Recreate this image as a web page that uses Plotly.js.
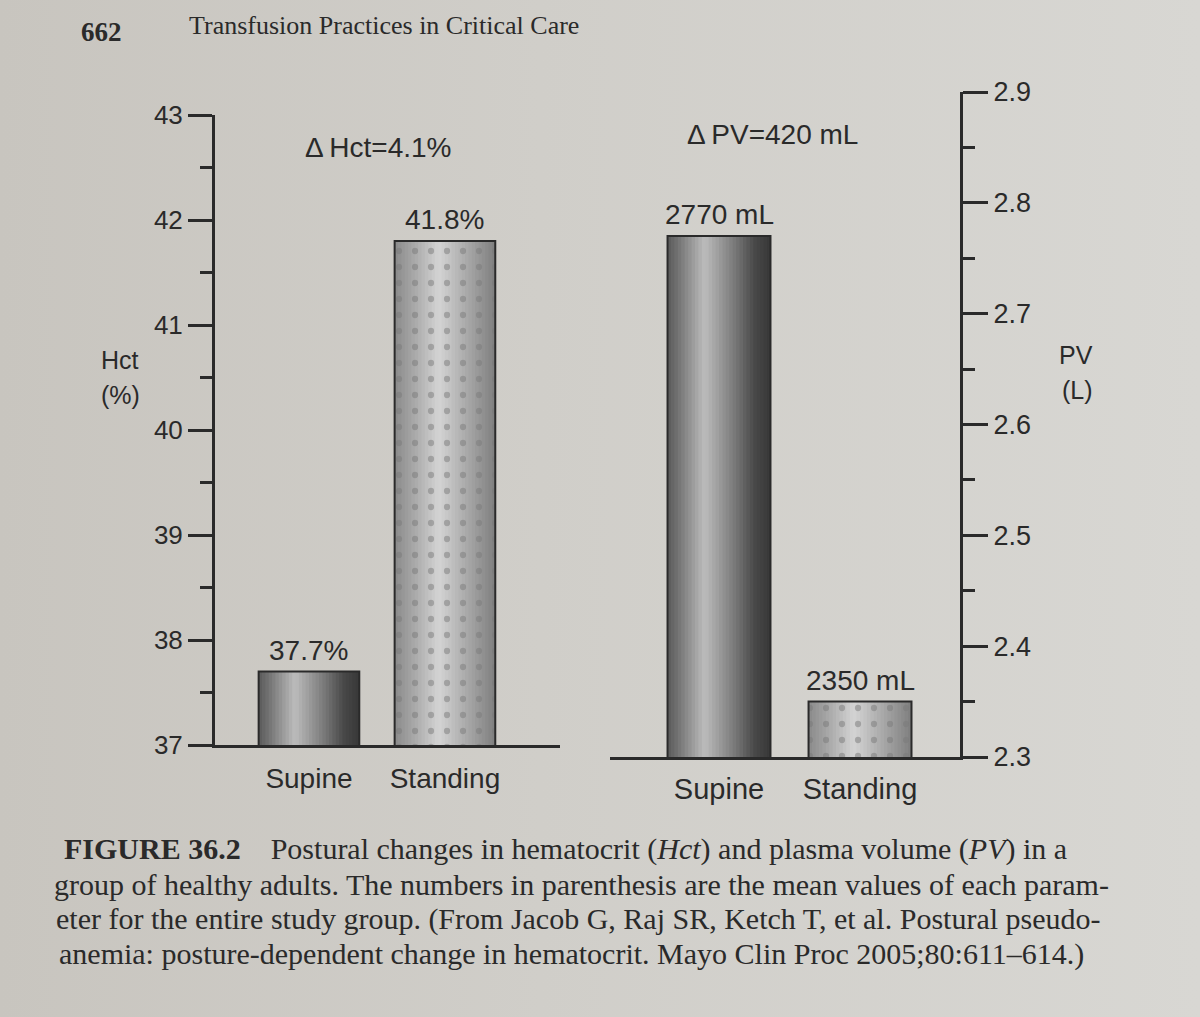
<!DOCTYPE html>
<html><head><meta charset="utf-8">
<script src="https://cdn.plot.ly/plotly-3.0.1.min.js"></script>
<style>
html,body{margin:0;padding:0;}
body{width:1200px;height:1017px;overflow:hidden;background:linear-gradient(90deg,#c8c5bf 0%,#d0cec9 45%,#d8d7d3 100%);}
#chart{width:1200px;height:1017px;}
</style></head><body><div id="chart"></div>
<script>
// ---- data ----
const postures = ['Supine', 'Standing'];
const hctPct = [37.7, 41.8];          // hematocrit, %
const pvML = [2770, 2350];            // plasma volume, mL
const hctTickVals = [37, 38, 39, 40, 41, 42, 43];
const pvTickVals = [2.3, 2.4, 2.5, 2.6, 2.7, 2.8, 2.9];
const headerPage = '662';
const headerTitle = 'Transfusion Practices in Critical Care';
const captionLines = [
  '<b>FIGURE 36.2</b>\u00a0\u00a0\u00a0 Postural changes in hematocrit (<i>Hct</i>) and plasma volume (<i>PV</i>) in a',
  'group of healthy adults. The numbers in parenthesis are the mean values of each param-',
  'eter for the entire study group. (From Jacob G, Raj SR, Ketch T, et al. Postural pseudo-',
  'anemia: posture-dependent change in hematocrit. Mayo Clin Proc 2005;80:611\u2013614.)'
];

const pvL = pvML.map(v => v / 1000);
const hctDelta = (hctPct[1] - hctPct[0]).toFixed(1);
const pvDelta = pvML[0] - pvML[1];

// ---- style helpers ----
const INK = '#2a2a2a';
const SANS = 'Liberation Sans, Arial, sans-serif';
const SERIF = 'Liberation Serif, Times New Roman, serif';
const W = 1200, H = 1017;
const px = x => x / W;
const py = y => 1 - y / H;

function hexToRgb(h) { return [1, 3, 5].map(i => parseInt(h.substr(i, 2), 16)); }
function grad(stops, t) {
  for (let i = 0; i < stops.length - 1; i++) {
    const [t0, c0] = stops[i], [t1, c1] = stops[i + 1];
    if (t <= t1) {
      const f = (t - t0) / (t1 - t0);
      const a = hexToRgb(c0), b = hexToRgb(c1);
      return 'rgb(' + a.map((v, k) => Math.round(v + (b[k] - v) * f)).join(',') + ')';
    }
  }
  return stops[stops.length - 1][1];
}
const gradDark = [[0, '#5a5a5a'], [0.1, '#727272'], [0.36, '#bcbcbc'], [0.6, '#858585'], [0.85, '#484848'], [1, '#383838']];
const gradLight = [[0, '#8a8a8a'], [0.18, '#a6a6a6'], [0.44, '#d4d4d4'], [0.72, '#a8a8a8'], [1, '#7e7e7e']];

const NSTRIP = 30;
function barTraces(xa, ya, vals, BW) {
  const out = [];
  const sw = BW / NSTRIP;
  for (let i = 0; i < NSTRIP; i++) {
    const t = (i + 0.5) / NSTRIP;
    out.push({
      type: 'bar', x: postures, y: vals, xaxis: xa, yaxis: ya,
      width: i < NSTRIP - 1 ? sw * 1.6 : sw, offset: -BW / 2 + i * sw,
      marker: { color: [grad(gradDark, t), grad(gradLight, t)], line: { width: 0 } },
      hoverinfo: 'skip', showlegend: false
    });
  }
  out.push({
    type: 'bar', x: postures, y: vals, xaxis: xa, yaxis: ya, width: BW, offset: -BW / 2,
    marker: {
      color: 'rgba(0,0,0,0)', line: { width: 0 },
      pattern: { shape: ['', '.'], fgcolor: '#7a7a7a', bgcolor: 'rgba(0,0,0,0)', size: 16, solidity: 0.12, fillmode: 'overlay' }
    },
    hoverinfo: 'skip', showlegend: false
  });
  out.push({
    type: 'bar', x: postures, y: vals, xaxis: xa, yaxis: ya, width: BW, offset: -BW / 2,
    marker: { color: 'rgba(0,0,0,0)', line: { width: 2, color: INK } },
    hoverinfo: 'skip', showlegend: false
  });
  return out;
}

const traces = [].concat(
  barTraces('x', 'y', hctPct, 0.74),
  barTraces('x2', 'y2', pvL, 0.73)
);

const baseY = {
  showline: true, linewidth: 3, linecolor: INK, ticks: 'outside', tickwidth: 3, tickcolor: INK,
  showgrid: false, zeroline: false, fixedrange: true,
  tickfont: { family: SANS, size: 26, color: INK }
};
const baseX = {
  type: 'category', showline: true, linewidth: 3, linecolor: INK, ticks: '', showgrid: false,
  zeroline: false, fixedrange: true, tickfont: { family: SANS, size: 28, color: INK }
};

const layout = {
  width: W, height: H, margin: { l: 0, r: 0, t: 0, b: 0 },
  paper_bgcolor: 'rgba(0,0,0,0)', plot_bgcolor: 'rgba(0,0,0,0)',
  barmode: 'overlay', showlegend: false, font: { family: SANS, color: INK },
  xaxis: Object.assign({}, baseX, { domain: [px(215), px(560)], range: [-0.691, 1.846], anchor: 'y', ticklabelstandoff: 6 }),
  yaxis: Object.assign({}, baseY, {
    domain: [py(745), py(115)], range: [37, 43], anchor: 'x', side: 'left',
    tickvals: hctTickVals, ticklen: 24,
    minor: { dtick: 0.5, ticks: 'outside', ticklen: 12, tickwidth: 3, tickcolor: INK, showgrid: false }
  }),
  xaxis2: Object.assign({}, baseX, { domain: [px(610), px(960)], range: [-0.773, 1.709], anchor: 'y2', ticklabelstandoff: 4,
    tickfont: { family: SANS, size: 29, color: INK } }),
  yaxis2: Object.assign({}, baseY, {
    domain: [py(757), py(92)], range: [2.3, 2.9], anchor: 'x2', side: 'right',
    tickvals: pvTickVals, tickformat: '.1f', ticklen: 25,
    tickfont: { family: SANS, size: 27, color: INK },
    minor: { dtick: 0.05, ticks: 'outside', ticklen: 12, tickwidth: 3, tickcolor: INK, showgrid: false }
  }),
  annotations: []
};

const A = layout.annotations;
function paperText(text, x, y, size, family, extra) {
  A.push(Object.assign({ text: text, xref: 'paper', yref: 'paper', x: px(x), y: py(y), showarrow: false,
    xanchor: 'center', yanchor: 'middle', font: { family: family || SANS, size: size, color: INK } }, extra || {}));
}
// value labels on bars
const hctLabels = hctPct.map(v => v.toFixed(1) + '%');
const pvLabels = pvML.map(v => v + ' mL');
postures.forEach((p, i) => {
  A.push({ text: hctLabels[i], xref: 'x', yref: 'y', x: p, y: hctPct[i], yanchor: 'bottom', yshift: 4,
    showarrow: false, font: { family: SANS, size: 28, color: INK } });
  A.push({ text: pvLabels[i], xref: 'x2', yref: 'y2', x: p, y: pvL[i], yanchor: 'bottom', yshift: 4,
    showarrow: false, font: { family: SANS, size: 28, color: INK } });
});
paperText('\u0394\u2009Hct=' + hctDelta + '%', 378, 147, 28);
paperText('\u0394\u2009PV=' + pvDelta + ' mL', 772, 134, 28);
paperText('Hct', 120, 360, 25);
paperText('(%)', 120, 395, 25);
paperText('PV', 1076, 355, 25);
paperText('(L)', 1077, 390, 25);
// header
paperText('<b>' + headerPage + '</b>', 101, 32, 27, SERIF);
paperText(headerTitle, 384, 26, 26, SERIF);
// caption
const capY = [849, 884, 919, 954];
const capX = [565, 581, 578, 571];
captionLines.forEach((t, i) => paperText(t, capX[i], capY[i], 30, SERIF));

Plotly.newPlot('chart', traces, layout, { staticPlot: true, displayModeBar: false });
</script></body></html>
